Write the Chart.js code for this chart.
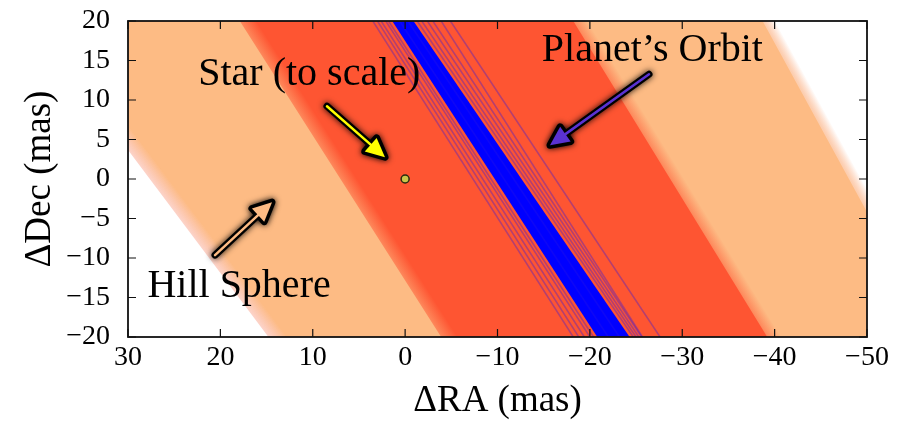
<!DOCTYPE html>
<html><head><meta charset="utf-8">
<script src="https://cdn.jsdelivr.net/npm/chart.js@4.4.0/dist/chart.umd.min.js"></script>
<style>html,body{margin:0;padding:0;background:#fff;}canvas{display:block}</style>
</head><body>
<canvas id="c" width="905" height="425"></canvas>
<script>
// ---- axes ----
const xTicks = [30, 20, 10, 0, -10, -20, -30, -40, -50];
const yTicks = [20, 15, 10, 5, 0, -5, -10, -15, -20];
// ---- region boundaries (RA at Dec=+20 and Dec=-20); colour on the right of each boundary ----
const boundaryTop = [40.5, 17.9, -18.2, -38.7];
const boundaryBottom = [14.8, -3.9, -39.2, -57.4];
const boundaryColors = ['253,187,132', '254,85,50', '253,187,132', '255,255,255'];
const boundaryBlur = [30, 28, 24, 22];
// ---- planet orbit: dense core and individual orbit samples (RA at Dec=+20 / Dec=-20) ----
const coreTop = [1.4, -0.9];
const coreBottom = [-20.8, -24.3];
const orbitTop = [3.5, 3.0, 2.6, 2.1, 1.8, 0.6, -0.3, -1.3, -1.8, -2.4, -3.0, -3.9, -4.9];
const orbitBottom = [-18.2, -18.8, -19.4, -20.0, -20.4, -22.0, -23.2, -24.7, -25.0, -25.3, -25.6, -25.7, -27.6];
// ---- star ----
const starRA = [0];
const starDec = [0];
// ---- annotations ----
const labelText = ['Star (to scale)', 'Planet\u2019s Orbit', 'Hill Sphere'];
const labelRA = [22.4, -14.8, 27.9];
const labelDec = [11.9, 15.0, -14.9];
const arrowTailRA = [8.46, -26.4, 20.58];
const arrowTailDec = [9.21, 13.26, -9.63];
const arrowHeadRA = [2.18, -15.68, 14.41];
const arrowHeadDec = [2.76, 4.28, -2.93];
const arrowColors = ['#ffff00', '#5a32d2', '#fdbb84'];

const SERIF = "'Liberation Serif', 'DejaVu Serif', serif";
const fmt = v => (v < 0 ? '\u2212' + Math.abs(v) : String(v));
const raAt = (t, b, dec) => b + (t - b) * (dec + 20) / 40;

function bandFill(i) {
  return function (c) {
    const chart = c.chart, xs = chart.scales.x, ys = chart.scales.y;
    if (!xs || !ys || !chart.chartArea) return 'rgb(' + boundaryColors[i] + ')';
    const x1 = xs.getPixelForValue(boundaryTop[i]), y1 = ys.getPixelForValue(20);
    const x2 = xs.getPixelForValue(boundaryBottom[i]), y2 = ys.getPixelForValue(-20);
    let dx = x2 - x1, dy = y2 - y1; const L = Math.hypot(dx, dy); dx /= L; dy /= L;
    let nx = dy, ny = -dx; if (nx < 0) { nx = -nx; ny = -ny; }
    const mx = (x1 + x2) / 2, my = (y1 + y2) / 2, w = boundaryBlur[i] / 2;
    const g = chart.ctx.createLinearGradient(mx - nx * w, my - ny * w, mx + nx * w, my + ny * w);
    g.addColorStop(0, 'rgba(' + boundaryColors[i] + ',0)');
    if (i === 0) g.addColorStop(0.45, 'rgba(250,175,160,0.5)');
    if (i === 3) g.addColorStop(0.55, 'rgba(252,225,220,0.5)');
    g.addColorStop(1, 'rgba(' + boundaryColors[i] + ',1)');
    return g;
  };
}

const datasets = [];
boundaryTop.forEach((t, i) => {
  const b = boundaryBottom[i];
  datasets.push({
    data: [{x: raAt(t, b, 30), y: 30}, {x: -120, y: 30}, {x: -120, y: -30}, {x: raAt(t, b, -30), y: -30}],
    fill: 'shape', backgroundColor: bandFill(i), borderWidth: 0, borderColor: 'rgba(0,0,0,0)',
    pointRadius: 0, tension: 0, order: 100 - i
  });
});
datasets.push({
  data: [{x: raAt(coreTop[0], coreBottom[0], 30), y: 30}, {x: raAt(coreTop[1], coreBottom[1], 30), y: 30},
         {x: raAt(coreTop[1], coreBottom[1], -30), y: -30}, {x: raAt(coreTop[0], coreBottom[0], -30), y: -30}],
  fill: 'shape', backgroundColor: '#0000ff', borderWidth: 0, borderColor: 'rgba(0,0,0,0)',
  pointRadius: 0, tension: 0, order: 50
});
orbitTop.forEach((t, i) => {
  const b = orbitBottom[i];
  datasets.push({
    data: [{x: raAt(t, b, 30), y: 30}, {x: raAt(t, b, -30), y: -30}],
    fill: false, borderColor: 'rgba(40,20,230,0.35)', borderWidth: 1.6,
    pointRadius: 0, tension: 0, order: 40
  });
});
datasets.push({
  data: starRA.map((r, i) => ({x: r, y: starDec[i]})),
  showLine: false, pointRadius: 4, pointBackgroundColor: '#c9c64a', pointBorderColor: '#2a2a10',
  pointBorderWidth: 1.5, order: 0
});

function drawArrow(ctx, x0, y0, x1, y1, color) {
  const ang = Math.atan2(y1 - y0, x1 - x0);
  const headLen = 19, headW = 9;
  const bx = x1 - Math.cos(ang) * headLen, by = y1 - Math.sin(ang) * headLen;
  const px = -Math.sin(ang), py = Math.cos(ang);
  const tri = () => { ctx.beginPath(); ctx.moveTo(x1, y1); ctx.lineTo(bx + px * headW, by + py * headW);
    ctx.lineTo(bx - px * headW, by - py * headW); ctx.closePath(); };
  ctx.save();
  ctx.lineJoin = 'round'; ctx.lineCap = 'round';
  ctx.shadowColor = 'rgba(0,0,0,0.9)'; ctx.shadowBlur = 6;
  ctx.strokeStyle = '#000'; ctx.fillStyle = '#000'; ctx.lineWidth = 7;
  ctx.beginPath(); ctx.moveTo(x0, y0); ctx.lineTo(bx, by); ctx.stroke();
  tri(); ctx.fill(); ctx.stroke();
  ctx.shadowBlur = 0; ctx.shadowColor = 'rgba(0,0,0,0)';
  ctx.strokeStyle = color; ctx.lineWidth = 2.5;
  ctx.beginPath(); ctx.moveTo(x0, y0); ctx.lineTo(bx, by); ctx.stroke();
  ctx.fillStyle = color; tri(); ctx.fill();
  ctx.restore();
}

const decor = {
  id: 'decor',
  afterDatasetsDraw(chart) {
    const {ctx, chartArea: a, scales: {x, y}} = chart;
    ctx.save();
    ctx.strokeStyle = '#111'; ctx.lineWidth = 1.2;
    const tl = 8;
    ctx.beginPath();
    xTicks.forEach(v => { const p = x.getPixelForValue(v);
      ctx.moveTo(p, a.top); ctx.lineTo(p, a.top + tl); ctx.moveTo(p, a.bottom); ctx.lineTo(p, a.bottom - tl); });
    yTicks.forEach(v => { const p = y.getPixelForValue(v);
      ctx.moveTo(a.left, p); ctx.lineTo(a.left + tl, p); ctx.moveTo(a.right, p); ctx.lineTo(a.right - tl, p); });
    ctx.stroke();
    ctx.lineWidth = 1.8; ctx.strokeStyle = '#111';
    ctx.strokeRect(a.left, a.top, a.right - a.left, a.bottom - a.top);
    ctx.restore();
    arrowColors.forEach((col, i) => {
      drawArrow(ctx, x.getPixelForValue(arrowTailRA[i]), y.getPixelForValue(arrowTailDec[i]),
        x.getPixelForValue(arrowHeadRA[i]), y.getPixelForValue(arrowHeadDec[i]), col);
    });
    ctx.save();
    ctx.font = '40px ' + SERIF; ctx.fillStyle = '#000'; ctx.textAlign = 'left'; ctx.textBaseline = 'alphabetic';
    labelText.forEach((t, i) => ctx.fillText(t, x.getPixelForValue(labelRA[i]), y.getPixelForValue(labelDec[i])));
    ctx.restore();
  }
};

new Chart(document.getElementById('c'), {
  type: 'line',
  data: {datasets},
  options: {
    responsive: false, animation: false, events: [],
    layout: {padding: {left: 0, top: 21, right: 38, bottom: 0}},
    plugins: {legend: {display: false}, tooltip: {enabled: false}},
    scales: {
      x: {
        type: 'linear', min: -50, max: 30, reverse: true,
        afterBuildTicks: s => { s.ticks = xTicks.map(v => ({value: v})); },
        afterFit: s => { s.height = 88; s.paddingLeft = 0; s.paddingRight = 0; },
        grid: {display: false}, border: {display: false},
        ticks: {padding: -4, color: '#000', font: {family: SERIF, size: 28}, callback: v => fmt(v), maxRotation: 0, autoSkip: false},
        title: {display: true, text: '\u0394RA (mas)', color: '#000', font: {family: SERIF, size: 37}, padding: {top: 0, bottom: 2}}
      },
      y: {
        type: 'linear', min: -20, max: 20,
        afterBuildTicks: s => { s.ticks = yTicks.map(v => ({value: v})); },
        afterFit: s => { s.width = 128; s.paddingTop = 0; s.paddingBottom = 0; },
        grid: {display: false}, border: {display: false},
        ticks: {padding: 10, color: '#000', font: {family: SERIF, size: 28}, callback: v => fmt(v), autoSkip: false},
        title: {display: true, text: '\u0394Dec (mas)', color: '#000', font: {family: SERIF, size: 37}, padding: {top: 18, bottom: 0}}
      }
    }
  },
  plugins: [decor]
});
</script>
</body></html>
